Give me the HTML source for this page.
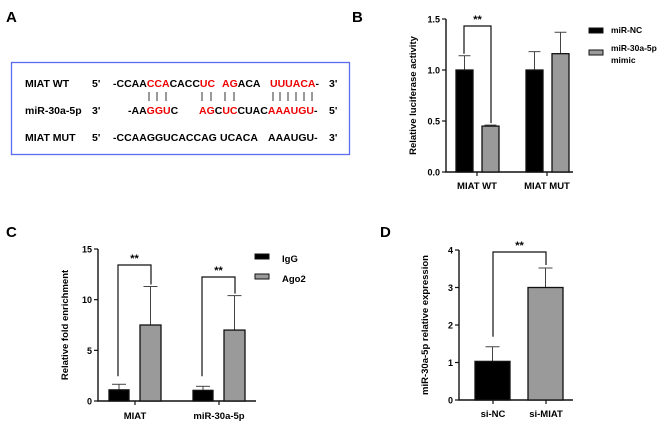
<!DOCTYPE html>
<html><head><meta charset="utf-8"><style>
body{margin:0;background:#fff}
svg{display:block;font-family:"Liberation Sans",Arial,sans-serif}
.b{font-weight:bold}
.r{fill:#e00}
</style></head><body>
<svg id="fig" width="669" height="431" viewBox="0 0 669 431" xmlns="http://www.w3.org/2000/svg">
<g>
<text x="6" y="22" font-size="15" class="b">A</text>
<rect x="11.5" y="62.5" width="338" height="92" fill="none" stroke="#5a6cf0" stroke-width="1.3"/>
<g font-size="10.5" class="b">
<text x="25" y="87">MIAT WT</text><text x="92" y="87">5'</text>
<text x="113" y="87">-CCAA<tspan class="r">CCA</tspan>CACC<tspan class="r">UC</tspan></text>
<text x="222" y="87"><tspan class="r">AG</tspan>ACA</text>
<text x="270" y="87"><tspan class="r">UUUACA</tspan>-</text><text x="329" y="87">3'</text>
<text x="25" y="114">miR-30a-5p</text><text x="92" y="114">3'</text>
<text x="128" y="114">-AA<tspan class="r">GGU</tspan>C</text>
<text x="199" y="114"><tspan class="r">AG</tspan>C<tspan class="r">UC</tspan>CUAC<tspan class="r">AAAUGU</tspan>-</text><text x="329" y="114">5'</text>
<text x="25" y="141">MIAT MUT</text><text x="92" y="141">5'</text>
<text x="113" y="141">-CCAAGGUCACCAG</text><text x="220" y="141">UCACA</text><text x="268" y="141">AAAUGU-</text><text x="329" y="141">3'</text>
</g>
<g stroke="#333" stroke-width="1">
<path d="M149 92v9M157 92v9M166 92v9M202 92v9M211 92v9M225 92v9M234 92v9M273 92v9M280 92v9M288 92v9M296 92v9M304 92v9M312 92v9"/>
</g>
</g>
<g id="B"></g>
<g id="C"></g>
<g id="D"></g>
</svg>
<script>
const NS="http://www.w3.org/2000/svg";
// Panel B data
const bCats=["MIAT WT","MIAT MUT"];
const bNC=[1.0,1.0];
const bNCerr=[0.14,0.18];
const bMimic=[0.45,1.16];
const bMimicErr=[0.01,0.21];
const bTicks=["0.0","0.5","1.0","1.5"];
// Panel C data
const cCats=["MIAT","miR-30a-5p"];
const cIgG=[1.1,1.05];
const cIgGErr=[0.55,0.4];
const cAgo=[7.5,7.0];
const cAgoErr=[3.8,3.4];
const cTicks=["0","5","10","15"];
// Panel D data
const dCats=["si-NC","si-MIAT"];
const dVals=[1.03,3.0];
const dErr=[0.39,0.52];
const dTicks=["0","1","2","3","4"];

function el(p,t,a,txt){const e=document.createElementNS(NS,t);for(const k in a)e.setAttribute(k,a[k]);if(txt!=null)e.textContent=txt;p.appendChild(e);return e;}
function axis(g,x0,x1,y0,y1,vmax,ticks,title,tx){
  const sy=v=>y0-(v/vmax)*(y0-y1);
  const ax=el(g,'path',{d:`M${x0} ${y1}V${y0}H${x1}`,stroke:'#111','stroke-width':1.4,fill:'none'});
  
  
  ticks.forEach((t,i)=>{const v=parseFloat(t);const y=sy(v);
    el(g,'line',{x1:x0-4,x2:x0,y1:y,y2:y,stroke:'#111','stroke-width':1.2});
    const l=el(g,'text',{x:x0-6,y:y+3.5,'font-size':9,'font-weight':'bold','text-anchor':'end'},t);
    
    
  });
  const yt=el(g,'text',{x:tx,y:(y0+y1)/2,'font-size':9.5,'font-weight':'bold','text-anchor':'middle',transform:`rotate(-90 ${tx} ${(y0+y1)/2})`},title);
  
  
  return sy;
}
function bar(g,x,w,v,err,sy,fill,name){
  const y0=sy(0),y=sy(v);
  const cw=Math.min(w*0.35,7);
  el(g,'line',{x1:x+w/2,x2:x+w/2,y1:y,y2:sy(v+err),stroke:'#444','stroke-width':1});
  el(g,'line',{x1:x+w/2-cw,x2:x+w/2+cw,y1:sy(v+err),y2:sy(v+err),stroke:'#444','stroke-width':1});
  const r=el(g,'rect',{x:x,y:y,width:w,height:y0-y,fill:fill,stroke:'#111','stroke-width':1.3});
  
  
}
function bracket(g,xl,xr,top,yl,yr){
  const b=el(g,'path',{d:`M${xl} ${yl}V${top}H${xr}V${yr}`,stroke:'#111','stroke-width':1.2,fill:'none'});
  
  
  const s=el(g,'text',{x:(xl+xr)/2,y:top-3,'font-size':11,'font-weight':'bold','text-anchor':'middle'},'**');
  
  
}
function legend(g,x,y,fill,label){
  const r=el(g,'rect',{x:x,y:y,width:14,height:5,fill:fill,stroke:'#111','stroke-width':1});
  
  
  return r;
}
function xlabel(g,x,y,t){const l=el(g,'text',{x:x,y:y,'font-size':9.5,'font-weight':'bold','text-anchor':'middle'},t);
  
  }

// B
(function(){const g=document.getElementById('B');
el(g,'text',{x:352,y:22,'font-size':15,'font-weight':'bold'},'B');
const sy=axis(g,446,573,172,19,1.5,bTicks,'Relative luciferase activity',416);
const centers=[477,547];
bCats.forEach((c,i)=>{const cx=centers[i];
  el(g,'line',{x1:cx,x2:cx,y1:172,y2:176,stroke:'#111','stroke-width':1.2});
  bar(g,cx-21,17,bNC[i],bNCerr[i],sy,'#000','bar-mir-nc');
  bar(g,cx+5,17,bMimic[i],bMimicErr[i],sy,'#9a9a9a','bar-mir-30a-mimic');
  xlabel(g,cx,189,c);});
bracket(g,464,491,26,sy(bNC[0]+bNCerr[0])-2,sy(bMimic[0]+bMimicErr[0])-2);
legend(g,589,28,'#000');legend(g,589,50,'#9a9a9a');
el(g,'text',{x:611,y:33,'font-size':8.5,'font-weight':'bold'},'miR-NC');
el(g,'text',{x:611,y:51,'font-size':8.5,'font-weight':'bold'},'miR-30a-5p');
el(g,'text',{x:611,y:63,'font-size':8.5,'font-weight':'bold'},'mimic');
})();
// C
(function(){const g=document.getElementById('C');
el(g,'text',{x:6,y:237,'font-size':15,'font-weight':'bold'},'C');
const sy=axis(g,98,256,401,249,15,cTicks,'Relative fold enrichment',68);
const centers=[135,219];
cCats.forEach((c,i)=>{const cx=centers[i];
  el(g,'line',{x1:cx,x2:cx,y1:401,y2:405,stroke:'#111','stroke-width':1.2});
  bar(g,cx-26,20,cIgG[i],cIgGErr[i],sy,'#000','bar-igg');
  bar(g,cx+5,21,cAgo[i],cAgoErr[i],sy,'#9a9a9a','bar-ago2');
  xlabel(g,cx,419,c);});
bracket(g,118,151,265,sy(cIgG[0]+cIgGErr[0])-8,sy(cAgo[0]+cAgoErr[0])-2);
bracket(g,202,235,277,sy(cIgG[1]+cIgGErr[1])-10,sy(cAgo[1]+cAgoErr[1])-2);
legend(g,255,254,'#000');legend(g,255,274,'#9a9a9a');
el(g,'text',{x:282,y:262,'font-size':9.5,'font-weight':'bold'},'IgG');
el(g,'text',{x:282,y:282,'font-size':9.5,'font-weight':'bold'},'Ago2');
})();
// D
(function(){const g=document.getElementById('D');
el(g,'text',{x:380,y:237,'font-size':15,'font-weight':'bold'},'D');
const sy=axis(g,459,573,400,250,4,dTicks,'miR-30a-5p relative expression',428);
const centers=[493,546];
const fills=['#000','#9a9a9a'];
dCats.forEach((c,i)=>{const cx=centers[i];
  el(g,'line',{x1:cx,x2:cx,y1:400,y2:404,stroke:'#111','stroke-width':1.2});
  bar(g,cx-18,35,dVals[i],dErr[i],sy,fills[i],'bar-'+c.toLowerCase());
  xlabel(g,cx,417,c);});
bracket(g,493,546,252,sy(dVals[0]+dErr[0])-10,sy(dVals[1]+dErr[1])-3);
})();
</script>
</body></html>
